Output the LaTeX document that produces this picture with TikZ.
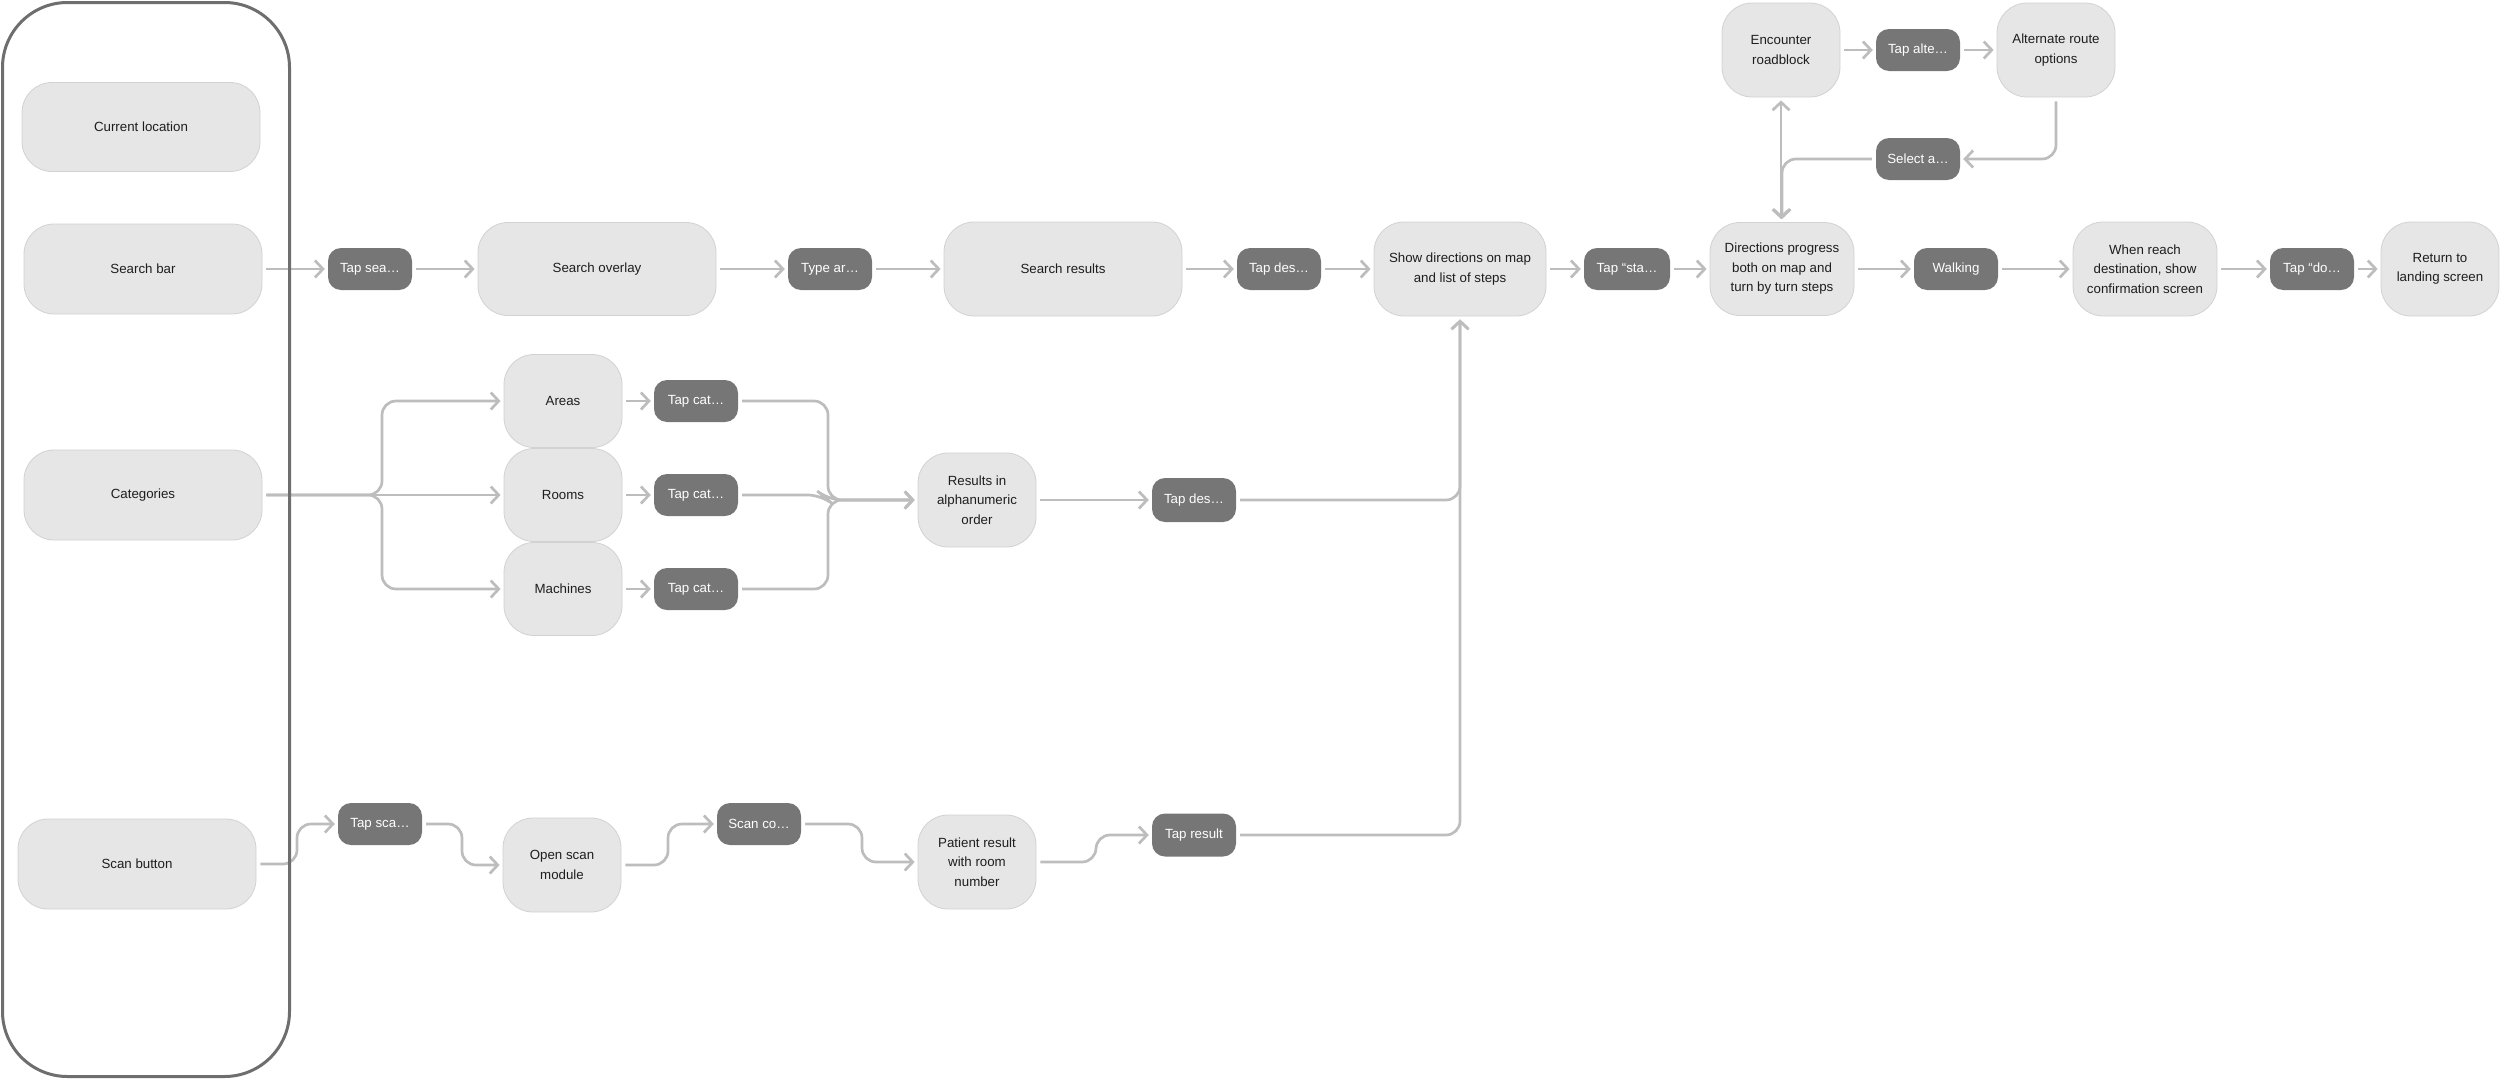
\documentclass[tikz,border=0pt]{standalone}
\usepackage{fontspec}
\setmainfont{Liberation Sans}
\usetikzlibrary{arrows.meta}
\definecolor{nodefill}{HTML}{E6E6E6}
\definecolor{nodeborder}{HTML}{D2D2D2}
\definecolor{darkfill}{HTML}{767676}
\definecolor{linegray}{HTML}{BDBDBD}
\definecolor{framegray}{HTML}{6E6E6E}
\definecolor{textdark}{HTML}{1E1E1E}
\begin{document}
\begin{tikzpicture}[x=1pt,y=-1pt,
  txt/.style={font=\fontsize{13.3}{19.5}\selectfont, align=center, inner sep=0pt},
  lnode/.style={txt, draw=nodeborder, line width=0.8pt, fill=nodefill, rounded corners=30pt, text=textdark},
  wide/.style={lnode, minimum width=238pt, minimum height=90pt},
  box/.style 2 args={lnode, minimum width=#1pt, minimum height=#2pt},
  dnode/.style={txt, fill=darkfill, rounded corners=13pt, text=white, minimum width=84pt, minimum height=42pt},
  conn/.style={draw=linegray, line width=2.7pt, rounded corners=14pt, shorten <=4pt, shorten >=3pt,
    -{Straight Barb[length=8pt,width=17pt]}},
  biconn/.style={draw=linegray, line width=2.7pt, shorten <=3pt, shorten >=3pt,
    {Straight Barb[length=8pt,width=17pt]}-{Straight Barb[length=8pt,width=17pt]}},
  framebox/.style={draw=framegray, line width=3pt, rounded corners=65pt, minimum width=287pt, minimum height=1074pt, inner sep=0pt}
]
\useasboundingbox (0,0) rectangle (2500,1079);

% left column
\node[wide, minimum height=89pt] (cur) at (141,127) {Current location};
\node[wide] (sbar) at (143,269) {Search bar};
\node[wide] (cat) at (143,495) {Categories};
\node[wide] (scan) at (137,864) {Scan button};

% top row
\node[dnode] (tsea) at (370,269) {Tap sea…};
\node[box={238}{93}] (sov) at (597,269) {Search overlay};
\node[dnode] (tya) at (830,269) {Type ar…};
\node[box={238}{94}] (sres) at (1063,269) {Search results};
\node[dnode] (tdesa) at (1279,269) {Tap des…};
\node[box={172}{94}] (show) at (1460,269) {Show directions on map\\and list of steps};
\node[dnode, minimum width=86pt] (tsta) at (1627,269) {Tap “sta…};
\node[box={144}{93}] (dirp) at (1782,269) {Directions progress\\both on map and\\turn by turn steps};
\node[dnode] (walk) at (1956,269) {Walking};
\node[box={144}{94}] (reach) at (2145,269) {When reach\\destination, show\\confirmation screen};
\node[dnode] (tdo) at (2312,269) {Tap “do…};
\node[box={118}{94}] (ret) at (2440,269) {Return to\\landing screen};

% roadblock loop
\node[box={118}{94}] (enc) at (1781,50) {Encounter\\roadblock};
\node[dnode] (talt) at (1918,50) {Tap alte…};
\node[box={118}{94}] (alt) at (2056,50) {Alternate route\\options};
\node[dnode] (sel) at (1918,159) {Select a…};

% categories
\node[box={118}{93}] (areas) at (563,401) {Areas};
\node[box={118}{93}] (rooms) at (563,495) {Rooms};
\node[box={118}{93}] (mach) at (563,589) {Machines};
\node[dnode] (tca) at (696,401) {Tap cat…};
\node[dnode] (tcb) at (696,495) {Tap cat…};
\node[dnode] (tcc) at (696,589) {Tap cat…};
\node[box={118}{94}] (res) at (977,500) {Results in\\alphanumeric\\order};
\node[dnode, minimum height=44pt] (tdesb) at (1194,500) {Tap des…};

% scan row
\node[dnode] (tsc) at (380,824) {Tap sca…};
\node[box={118}{94}] (osm) at (562,865) {Open scan\\module};
\node[dnode] (sco) at (759,824) {Scan co…};
\node[box={118}{94}] (pat) at (977,862) {Patient result\\with room\\number};
\node[dnode, minimum height=43pt] (tres) at (1194,835) {Tap result};

% connectors top row
\draw[conn] (sbar.east) -- (tsea.west);
\draw[conn] (tsea.east) -- (sov.west);
\draw[conn] (sov.east) -- (tya.west);
\draw[conn] (tya.east) -- (sres.west);
\draw[conn] (sres.east) -- (tdesa.west);
\draw[conn] (tdesa.east) -- (show.west);
\draw[conn] (show.east) -- (tsta.west);
\draw[conn] (tsta.east) -- (dirp.west);
\draw[conn] (dirp.east) -- (walk.west);
\draw[conn] (walk.east) -- (reach.west);
\draw[conn] (reach.east) -- (tdo.west);
\draw[conn] (tdo.east) -- (ret.west);

% roadblock loop connectors
\draw[conn] (enc.east) -- (talt.west);
\draw[conn] (talt.east) -- (alt.west);
\draw[conn] (alt.south) -- (2056,159) -- (sel.east);
\draw[conn] (sel.west) -- (1782,159) -- (dirp.north);
\draw[biconn] (enc.south) -- (enc.south |- dirp.north);

% categories connectors
\draw[conn] (cat.east) -- (382,495) -- (382,401) -- (areas.west);
\draw[conn] (cat.east) -- (rooms.west);
\draw[conn] (cat.east) -- (382,495) -- (382,589) -- (mach.west);
\draw[conn] (areas.east) -- (tca.west);
\draw[conn] (rooms.east) -- (tcb.west);
\draw[conn] (mach.east) -- (tcc.west);
\draw[conn] (tca.east) -- (828,401) -- (828,500) -- (res.west);
\draw[conn] (tcb.east) -- (822,495) -- (828,500) -- (res.west);
\draw[conn] (tcc.east) -- (828,589) -- (828,500) -- (res.west);
\draw[conn] (res.east) -- (tdesb.west);
\draw[conn] (tdesb.east) -- (1460,500) -- (show.south);

% scan connectors
\draw[conn] (scan.east) -- (297,864) -- (297,824) -- (tsc.west);
\draw[conn] (tsc.east) -- (462,824) -- (462,865) -- (osm.west);
\draw[conn] (osm.east) -- (668,865) -- (668,824) -- (sco.west);
\draw[conn] (sco.east) -- (862,824) -- (862,862) -- (pat.west);
\draw[conn] (pat.east) -- (1096,862) -- (1096,835) -- (tres.west);
\draw[conn] (tres.east) -- (1460,835) -- (show.south);

% outer frame
\node[framebox] (frame) at (146,539.5) {};
\end{tikzpicture}
\end{document}
